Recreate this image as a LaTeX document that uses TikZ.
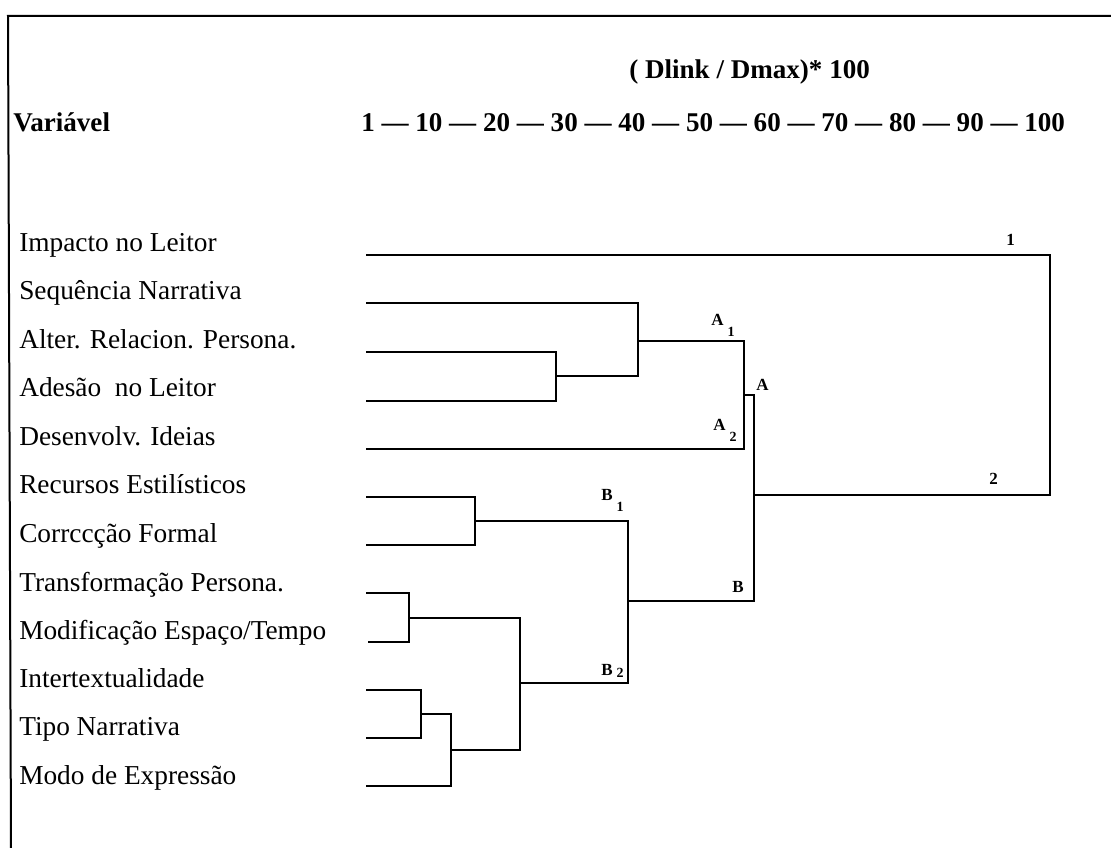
\documentclass[tikz,border=0pt]{standalone}
\usepackage{fontspec}
\setmainfont{Liberation Serif}
\newcommand\sublbl[3]{#1\hspace{3pt}\raisebox{-#3}{\fontsize{10.5}{11}\selectfont #2}}
\begin{document}
\begin{tikzpicture}[x=0.75pt,y=-0.75pt,
  link/.style={line width=1.4pt, line join=miter},
  frame/.style={line width=1.5pt},
  lbl/.style={anchor=base west, inner sep=0pt, font=\fontsize{20.5}{24}\selectfont},
  head/.style={anchor=base west, inner sep=0pt, font=\fontsize{20.3}{24}\selectfont\bfseries},
  tag/.style={anchor=base west, inner sep=0pt, font=\fontsize{12.75}{14}\selectfont\bfseries}]
\useasboundingbox (0,0) rectangle (1111,848);
% frame
\draw[frame] (1111,16) -- (8,16) -- (11,848);
% header
\node[head] (hdr) at (629,79) {( Dlink / Dmax)* 100};
\node[head] (var) at (13,132) {Variável};
\node[head] (axis) at (361,132) {1 — 10 — 20 — 30 — 40 — 50 — 60 — 70 — 80 — 90 — 100};
% leaf labels
\node[lbl] (l1) at (19,252) {Impacto no Leitor};
\node[lbl] (l2) at (19,300) {Sequência Narrativa};
\node[lbl] (l3) at (19,349) {Alter. Relacion. Persona.};
\node[lbl] (l4) at (19,397) {Adesão~ no Leitor};
\node[lbl] (l5) at (19,446) {Desenvolv. Ideias};
\node[lbl] (l6) at (19,494) {Recursos Estilísticos};
\node[lbl] (l7) at (19,542) {Corrccção Formal};
\node[lbl] (l8) at (19,591) {Transformação Persona.};
\node[lbl] (l9) at (19,639) {Modificação Espaço/Tempo};
\node[lbl] (l10) at (19,687) {Intertextualidade};
\node[lbl] (l11) at (19,735) {Tipo Narrativa};
\node[lbl] (l12) at (19,784) {Modo de Expressão};
% leaf starts
\coordinate (s1) at (366,255);
\coordinate (s2) at (366,303);
\coordinate (s3) at (366,352);
\coordinate (s4) at (366,401);
\coordinate (s5) at (366,449);
\coordinate (s6) at (366,497);
\coordinate (s7) at (366,545);
\coordinate (s8) at (366,593);
\coordinate (s9) at (368,642);
\coordinate (s10) at (366,690);
\coordinate (s11) at (366,738);
\coordinate (s12) at (366,786);
% merge points
\coordinate (m1) at (556,376);
\coordinate (m2) at (638,341);
\coordinate (mA) at (744,395);
\coordinate (aA) at (754,395);
\coordinate (b1) at (475,521);
\coordinate (b2) at (409,618);
\coordinate (b3) at (421,714);
\coordinate (b4) at (451,750);
\coordinate (b5) at (520,683);
\coordinate (mB) at (628,601);
\coordinate (r) at (754,495);
\coordinate (r2) at (1050,495);
% cluster A
\draw[link] (s3) -| (m1) |- (s4);
\draw[link] (s2) -| (m2) |- (m1);
\draw[link] (m2) -| (mA) |- (s5);
% cluster B
\draw[link] (s6) -| (b1) |- (s7);
\draw[link] (s8) -| (b2) |- (s9);
\draw[link] (s10) -| (b3) |- (s11);
\draw[link] (b3) -| (b4) |- (s12);
\draw[link] (b2) -| (b5) |- (b4);
\draw[link] (b1) -| (mB) |- (b5);
% A + B
\draw[link] (mA) -- (aA) |- (mB);
% root
\draw[link] (r) -- (r2) |- (s1);
% cluster tags
\node[tag] (t1) at (1006,246) {1};
\node[tag] (t2) at (989,485) {2};
\node[tag] (tA) at (756,391) {A};
\node[tag] (tB) at (732,593) {B};
\node[tag] (tA1) at (711,326) {\sublbl{A}{1}{8pt}};
\node[tag] (tA2) at (713,431) {\sublbl{A}{2}{8pt}};
\node[tag] (tB1) at (601,501) {\sublbl{B}{1}{8pt}};
\node[tag] (tB2) at (601,675) {\sublbl{B}{2}{2pt}};
\end{tikzpicture}
\end{document}
